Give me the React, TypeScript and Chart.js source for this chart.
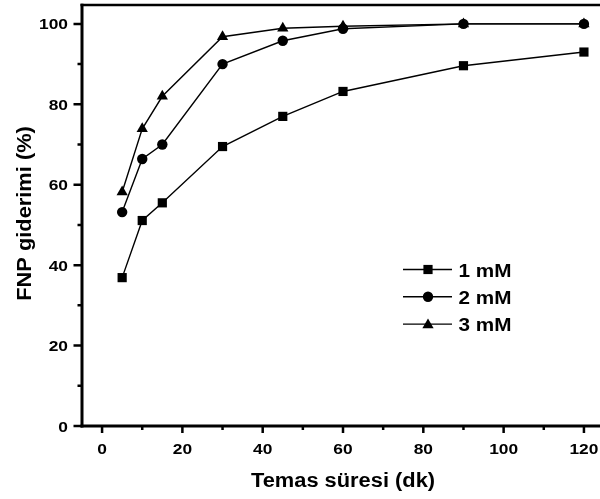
import React, { useEffect, useRef } from "react";
import { Chart, registerables } from "chart.js";

Chart.register(...registerables);

// Contact time (min) and FNP removal (%) for each concentration
const contactTimes = [5, 10, 15, 30, 45, 60, 90, 120];
const removal1mM = [36.9, 51.1, 55.5, 69.5, 77.0, 83.2, 89.6, 93.0];
const removal2mM = [53.2, 66.4, 70.0, 90.0, 95.8, 98.8, 100, 100];
const removal3mM = [58.2, 73.9, 82.0, 96.8, 98.9, 99.4, 100, 100];
const seriesLabels = ["1 mM", "2 mM", "3 mM"];
const pointStyles = ["rect", "circle", "triangle"] as const;
const pointSizes = [6.5, 5.2, 6.5];

const xTicks = [0, 20, 40, 60, 80, 100, 120];
const xMinorTicks = [10, 30, 50, 70, 90, 110];
const yTicks = [0, 20, 40, 60, 80, 100];
const yMinorTicks = [10, 30, 50, 70, 90];

const xTitle = "Temas süresi (dk)";
const yTitle = "FNP giderimi (%)";

const FONT = '"Liberation Sans", Arial, Helvetica, sans-serif';
const STRETCH = 1.12;

function drawText(
  ctx: CanvasRenderingContext2D,
  text: string,
  x: number,
  y: number,
  size: number,
  align: CanvasTextAlign,
  rotate = 0
) {
  ctx.save();
  ctx.translate(x, y);
  if (rotate) ctx.rotate(rotate);
  ctx.scale(STRETCH, 1);
  ctx.font = `bold ${size}px ${FONT}`;
  ctx.fillStyle = "#000";
  ctx.textAlign = align;
  ctx.textBaseline = "alphabetic";
  ctx.fillText(text, 0, 0);
  ctx.restore();
}

function drawMarker(ctx: CanvasRenderingContext2D, style: string, x: number, y: number, r: number) {
  ctx.beginPath();
  if (style === "rect") {
    const s = Math.SQRT1_2 * r;
    ctx.rect(x - s, y - s, 2 * s, 2 * s);
  } else if (style === "circle") {
    ctx.arc(x, y, r, 0, Math.PI * 2);
  } else {
    const a = (Math.PI * 2) / 3;
    for (let i = 0; i < 3; i++) {
      const px = x + Math.sin(i * a) * r;
      const py = y - Math.cos(i * a) * r;
      if (i === 0) ctx.moveTo(px, py);
      else ctx.lineTo(px, py);
    }
    ctx.closePath();
  }
  ctx.fillStyle = "#000";
  ctx.fill();
}

// Frame, ticks, tick labels, titles and legend
const framePlugin = {
  id: "originFrame",
  afterDraw(chart: any) {
    const ctx: CanvasRenderingContext2D = chart.ctx;
    const area = chart.chartArea;
    const left: number = area.left;
    const plotTop: number = area.top;
    const bottom: number = area.bottom;
    const xs = chart.scales.x;
    const ys = chart.scales.y;
    const frameRight = chart.width + 2;

    ctx.save();
    ctx.fillStyle = "#000";
    ctx.strokeStyle = "#000";
    ctx.lineCap = "butt";

    // top border
    ctx.lineWidth = 2.6;
    ctx.beginPath();
    ctx.moveTo(left - 1.5, plotTop);
    ctx.lineTo(frameRight, plotTop);
    ctx.stroke();

    // left and bottom axes
    ctx.fillRect(left - 1.5, plotTop - 1.3, 3, bottom - plotTop + 2.8);
    ctx.fillRect(left - 1.5, bottom - 1.5, frameRight - left + 1.5, 3);

    // ticks
    ctx.lineWidth = 2.5;
    ctx.beginPath();
    xTicks.forEach((v) => {
      const px = xs.getPixelForValue(v);
      ctx.moveTo(px, bottom);
      ctx.lineTo(px, bottom + 7);
    });
    xMinorTicks.forEach((v) => {
      const px = xs.getPixelForValue(v);
      ctx.moveTo(px, bottom);
      ctx.lineTo(px, bottom + 4);
    });
    yTicks.forEach((v) => {
      const py = ys.getPixelForValue(v);
      ctx.moveTo(left, py);
      ctx.lineTo(left - 8.5, py);
    });
    yMinorTicks.forEach((v) => {
      const py = ys.getPixelForValue(v);
      ctx.moveTo(left, py);
      ctx.lineTo(left - 4.5, py);
    });
    ctx.stroke();

    // tick labels
    xTicks.forEach((v) => {
      drawText(ctx, String(v), xs.getPixelForValue(v), bottom + 27.5, 15.5, "center");
    });
    yTicks.forEach((v) => {
      drawText(ctx, String(v), left - 14, ys.getPixelForValue(v) + 5.5, 15.5, "right");
    });

    // axis titles
    drawText(ctx, xTitle, (left + xs.getPixelForValue(125)) / 2, bottom + 61, 19.5, "center");
    drawText(ctx, yTitle, 30.5, (plotTop + bottom) / 2 - 2, 19.5, "center", -Math.PI / 2);

    // legend
    const legendX0 = 403;
    const legendX1 = 452;
    const legendY0 = 269.5;
    const legendStep = 27.3;
    seriesLabels.forEach((label, i) => {
      const y = legendY0 + i * legendStep;
      ctx.lineWidth = 1.4;
      ctx.strokeStyle = "#000";
      ctx.beginPath();
      ctx.moveTo(legendX0, y);
      ctx.lineTo(legendX1, y);
      ctx.stroke();
      drawMarker(ctx, pointStyles[i], (legendX0 + legendX1) / 2 + 0.5, y + (pointStyles[i] === "triangle" ? 1 : 0), pointSizes[i]);
      drawText(ctx, label, 458.5, y + 7, 18.5, "left");
    });

    ctx.restore();
  },
};

export default function App() {
  const canvasRef = useRef<HTMLCanvasElement | null>(null);

  useEffect(() => {
    if (!canvasRef.current) return;
    const series = [removal1mM, removal2mM, removal3mM];
    const chart = new Chart(canvasRef.current, {
      type: "line",
      data: {
        datasets: series.map((vals, i) => ({
          label: seriesLabels[i],
          data: contactTimes.map((t, j) => ({ x: t, y: vals[j] })),
          borderColor: "#000",
          backgroundColor: "#000",
          borderWidth: 1.4,
          pointStyle: pointStyles[i],
          pointRadius: pointSizes[i],
          pointBackgroundColor: "#000",
          pointBorderColor: "#000",
          pointBorderWidth: 0,
          tension: 0,
          fill: false,
          clip: false,
        })),
      },
      options: {
        animation: false,
        responsive: true,
        maintainAspectRatio: false,
        layout: { autoPadding: false, padding: { left: 82, top: 5, right: 0, bottom: 73 } },
        plugins: {
          legend: { display: false },
          tooltip: { enabled: false },
        },
        events: [],
        scales: {
          x: { type: "linear", min: -5, max: 124, display: false },
          y: { type: "linear", min: 0, max: 104.7, display: false },
        },
      },
      plugins: [framePlugin],
    });
    return () => chart.destroy();
  }, []);

  return (
    <div style={{ position: "fixed", left: 0, top: 0, width: 600, height: 499, background: "#fff" }}>
      <canvas ref={canvasRef} style={{ display: "block" }} />
    </div>
  );
}
